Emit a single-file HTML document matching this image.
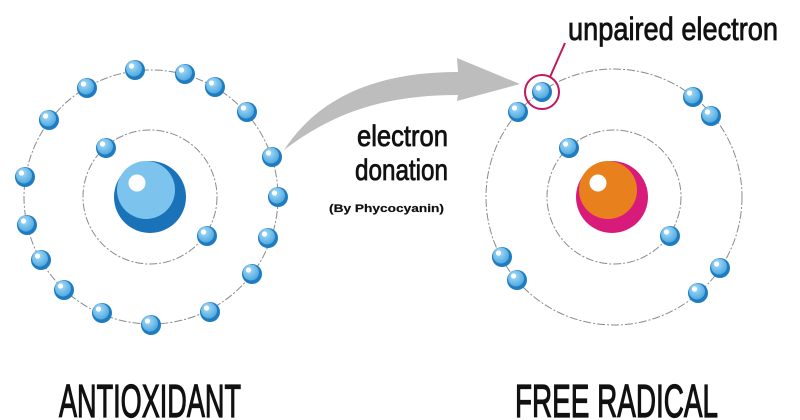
<!DOCTYPE html>
<html><head><style>html,body{margin:0;padding:0;background:#fff;}svg{display:block}</style></head>
<body>
<svg width="800" height="420" viewBox="0 0 800 420" xmlns="http://www.w3.org/2000/svg">
<defs>
<radialGradient id="eg" cx="0.4" cy="0.35" r="0.7">
<stop offset="0" stop-color="#a9dcf7"/><stop offset="1" stop-color="#4aa6de"/>
</radialGradient>
<g id="e">
<circle r="10" fill="#1f7cc1"/>
<circle cx="-1" cy="-1.5" r="8" fill="url(#eg)"/>
<circle cx="-3.5" cy="-4" r="2.6" fill="#fff"/>
</g>
</defs>
<g fill="none" stroke="#8a8a8a" stroke-width="1" stroke-dasharray="8 2 2 2">
<circle cx="150" cy="197" r="67"/>
<circle cx="151" cy="197" r="127"/>
<circle cx="614" cy="197" r="67"/>
<circle cx="614" cy="197" r="128"/>
</g>
<path d="M284,150 C320,95 380,72 458,72 L457,58 L520,84 L457,101 L458,95 C380,95 330,115 284,150 Z" fill="#bdbdbd"/>
<circle cx="150" cy="197" r="36" fill="#1a72b8"/>
<circle cx="146" cy="190" r="29" fill="#7cc4ee"/>
<circle cx="137" cy="183" r="8.5" fill="#fff"/>
<circle cx="612" cy="197" r="36" fill="#d81b7a"/>
<circle cx="608" cy="190" r="29" fill="#e8801e"/>
<circle cx="598" cy="183" r="8.5" fill="#fff"/>
<g>
<use href="#e" x="135" y="70"/><use href="#e" x="185" y="74"/><use href="#e" x="215" y="87"/>
<use href="#e" x="247" y="112"/><use href="#e" x="272" y="157"/><use href="#e" x="278" y="197"/>
<use href="#e" x="268" y="238"/><use href="#e" x="252" y="274"/><use href="#e" x="210" y="312"/>
<use href="#e" x="151" y="325"/><use href="#e" x="102" y="313"/><use href="#e" x="64" y="290"/>
<use href="#e" x="41" y="260"/><use href="#e" x="27" y="225"/><use href="#e" x="25" y="177"/>
<use href="#e" x="49" y="120"/><use href="#e" x="87" y="88"/>
<use href="#e" x="106" y="148"/><use href="#e" x="207" y="236"/>
</g>
<g>
<use href="#e" x="542" y="92"/><use href="#e" x="518" y="112"/><use href="#e" x="693" y="97"/>
<use href="#e" x="711" y="116"/><use href="#e" x="569" y="148"/><use href="#e" x="670" y="236"/>
<use href="#e" x="502" y="257"/><use href="#e" x="517" y="280"/><use href="#e" x="720" y="268"/>
<use href="#e" x="698" y="293"/>
</g>
<circle cx="542" cy="92" r="17" fill="none" stroke="#c2185b" stroke-width="2"/>
<line x1="550" y1="77" x2="565" y2="43" stroke="#c2185b" stroke-width="2"/>
<g font-family="Liberation Sans, sans-serif" fill="#111" stroke="#111">
<text x="568" y="40" font-size="32" stroke-width="0.8" textLength="210" lengthAdjust="spacingAndGlyphs">unpaired electron</text>
<text x="357" y="146" font-size="30" stroke-width="0.8" textLength="91" lengthAdjust="spacingAndGlyphs">electron</text>
<text x="355" y="180" font-size="30" stroke-width="0.8" textLength="93" lengthAdjust="spacingAndGlyphs">donation</text>
<text x="329" y="212" font-size="11" font-weight="bold" stroke-width="0.2" textLength="115" lengthAdjust="spacingAndGlyphs">(By Phycocyanin)</text>
<text x="59" y="417" font-size="46" stroke-width="1.2" textLength="182" lengthAdjust="spacingAndGlyphs">ANTIOXIDANT</text>
<text x="515" y="417" font-size="46" stroke-width="1.2" textLength="203" lengthAdjust="spacingAndGlyphs">FREE RADICAL</text>
</g>
</svg>
</body></html>
